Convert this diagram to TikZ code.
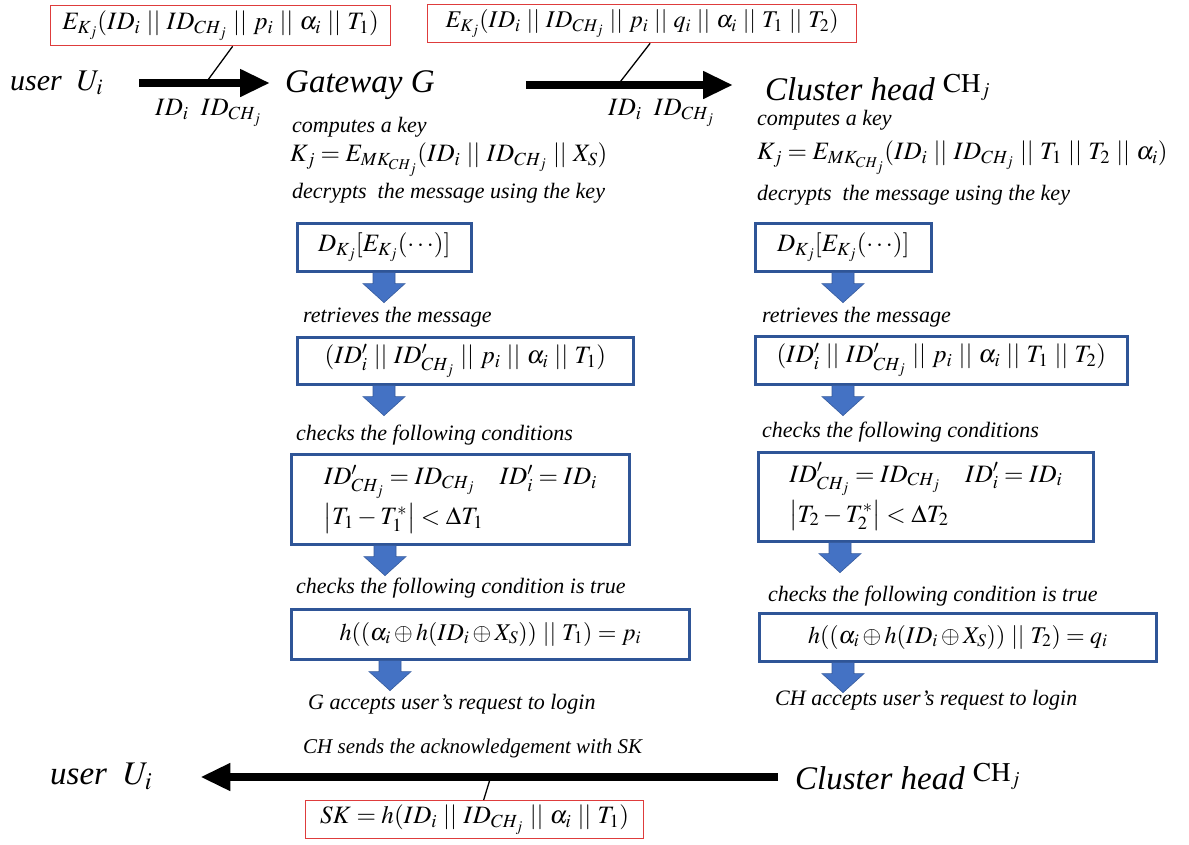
\documentclass[tikz,border=0pt]{standalone}
\usepackage{mathptmx}
\usepackage{fontspec}
\setmainfont{Liberation Serif}
\usetikzlibrary{arrows.meta}
\newcommand{\cc}{\mathbin{\,||\,}}
\newcommand{\chj}{{\fontsize{27}{30}\selectfont\raisebox{8pt}{$\mathrm{CH}_j$}}}
\definecolor{boxblue}{RGB}{47,85,151}
\definecolor{arrowblue}{RGB}{68,114,196}
\definecolor{msgred}{RGB}{222,60,60}

\begin{document}
\begin{tikzpicture}[x=1pt,y=-1pt,every node/.style={inner sep=0pt},
  lbl/.style={anchor=west,font=\fontsize{22}{25}\selectfont\itshape},
  eq/.style={anchor=west,font=\fontsize{25}{28}\selectfont},
  party/.style={anchor=west,font=\fontsize{33}{36}\selectfont\itshape},
  msg/.style={draw=msgred,line width=1.3pt,anchor=north west,font=\fontsize{25}{28}\selectfont},
  bbox/.style={draw=boxblue,line width=2.6pt,anchor=north west,font=\fontsize{25}{40}\selectfont},
  send/.style={line width=8pt,-{Triangle[length=30pt,width=26pt]}},
  tick/.style={line width=1.3pt},
  fat/.style={fill=arrowblue,draw=arrowblue!80!black,line width=0.6pt}]
\useasboundingbox (0,0) rectangle (1189,844);

%%% LOGIN REQUEST %%%
\node [msg,minimum width=340,minimum height=40] at (50,5) (m1) {$E_{K_j}(ID_i \cc ID_{CH_j} \cc p_i \cc \alpha_i \cc T_1)$};
\node [msg,minimum width=429,minimum height=38,font=\fontsize{24}{28}\selectfont] at (427,4) (m2) {$E_{K_j}(ID_i \cc ID_{CH_j} \cc p_i \cc q_i \cc \alpha_i \cc T_1 \cc T_2)$};
\node [party,font=\fontsize{30}{34}\selectfont\itshape] at (10,83) (user1) {user\ \ $U_i$};
\node [party] at (285,85) (gw) {Gateway G};
\node [party] at (765,88) (ch1) {Cluster head \chj};
\node [eq] at (155,113) (id1) {$ID_i\ \ ID_{CH_j}$};
\node [eq] at (608,113) (id2) {$ID_i\ \ ID_{CH_j}$};
\coordinate (t1) at (205,84);
\coordinate (t2) at (617,86);

\draw [send,shorten <=36pt,shorten >=15pt] (user1.east) -- (user1.east -| gw.west);
\draw [send,shorten <=91pt,shorten >=32pt] (gw.east) -- (gw.east -| ch1.west);
\draw [tick] ([xshift=12pt]m1.south) -- (t1);
\draw [tick] ([xshift=8pt]m2.south) -- (t2);

%%% GATEWAY %%%
\node [lbl] at (292,127) (key1) {computes a key};
\node [eq] at (290,160) (kj1) {$K_j = E_{MK_{CH_j}}(ID_i \cc ID_{CH_j} \cc X_S)$};
\node [lbl] at (292,193) (dec1) {decrypts\ \ the message using the key};
\node [bbox,minimum width=174,minimum height=48] at (296,222) (dk1) {$D_{K_j}[E_{K_j}(\cdots)]$};
\node [lbl] at (303,317) (ret1) {retrieves the message};
\node [bbox,minimum width=336,minimum height=47] at (296,336) (rm1) {$(ID'_i \cc ID'_{CH_j} \cc p_i \cc \alpha_i \cc T_1)$};
\node [lbl] at (296,435) (chk1) {checks the following conditions};
\node [bbox,minimum width=338,minimum height=90,align=left] at (290,453) (cd1) {$ID'_{CH_j} = ID_{CH_j} \quad ID'_i = ID_i$\\$\bigl|T_1 - T_1^{*}\bigr| < \Delta T_1$};
\node [lbl] at (296,588) (tru1) {checks the following condition is true};
\node [bbox,minimum width=398,minimum height=50,font=\fontsize{24}{28}\selectfont] at (290,608) (hp1) {$h((\alpha_i \oplus h(ID_i \oplus X_S)) \cc T_1) = p_i$};
\node [lbl] at (308,704) (acc1) {G accepts user’s request to login};

%%% CLUSTER HEAD %%%
\node [lbl] at (757,120) (key2) {computes a key};
\node [eq] at (757,158) (kj2) {$K_j = E_{MK_{CH_j}}(ID_i \cc ID_{CH_j} \cc T_1 \cc T_2 \cc \alpha_i)$};
\node [lbl] at (757,195) (dec2) {decrypts\ \ the message using the key};
\node [bbox,minimum width=176,minimum height=48] at (754,222) (dk2) {$D_{K_j}[E_{K_j}(\cdots)]$};
\node [lbl] at (762,317) (ret2) {retrieves the message};
\node [bbox,minimum width=372,minimum height=48] at (754,335) (rm2) {$(ID'_i \cc ID'_{CH_j} \cc p_i \cc \alpha_i \cc T_1 \cc T_2)$};
\node [lbl] at (762,432) (chk2) {checks the following conditions};
\node [bbox,minimum width=335,minimum height=89,align=left] at (757,451) (cd2) {$ID'_{CH_j} = ID_{CH_j} \quad ID'_i = ID_i$\\$\bigl|T_2 - T_2^{*}\bigr| < \Delta T_2$};
\node [lbl] at (768,596) (tru2) {checks the following condition is true};
\node [bbox,minimum width=397,minimum height=48,font=\fontsize{24}{28}\selectfont] at (758,612) (hp2) {$h((\alpha_i \oplus h(ID_i \oplus X_S)) \cc T_2) = q_i$};
\node [lbl] at (775,700) (acc2) {CH accepts user’s request to login};

\foreach \b/\dx in {dk1/88,rm1/88,cd1/95,hp1/100,dk2/89,rm2/89,cd2/83,hp2/85}
  \filldraw [fat] ([xshift=\dx pt]\b.south west) ++(-11,0) -- ++(22,0) -- ++(0,11) -- ++(10,0)
    -- ++(-21,19) -- ++(-21,-19) -- ++(10,0) -- cycle;

%%% ACKNOWLEDGEMENT %%%
\node [party] at (50,776) (user2) {user\ \ $U_i$};
\node [party] at (795,777) (ch2) {Cluster head \chj};
\node [lbl,font=\fontsize{21}{24}\selectfont\itshape] at (303,748) (ack) {CH sends the acknowledgement with SK};
\node [msg,minimum width=338,minimum height=38] at (305,800) (sk) {$SK = h(ID_i \cc ID_{CH_j} \cc \alpha_i \cc T_1)$};
\coordinate (t3) at (491,776);

\draw [send,shorten <=17pt,shorten >=48pt] (ch2.west) -- (ch2.west -| user2.east);
\draw [tick] ([xshift=9pt]sk.north) -- (t3);
\end{tikzpicture}
\end{document}
